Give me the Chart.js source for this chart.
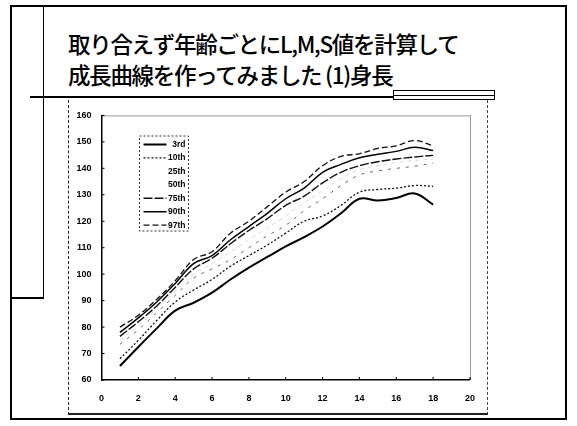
<!DOCTYPE html>
<html>
<head>
<meta charset="utf-8">
<script src="https://cdn.jsdelivr.net/npm/chart.js@4.4.0/dist/chart.umd.min.js"></script>
<style>
  html, body { margin: 0; padding: 0; background: #fff; }
  #slide { position: relative; width: 577px; height: 426px; overflow: hidden; }
  .ln { position: absolute; background: #000; }
  #title { position: absolute; left: 68px; top: 28px; font-family: "Noto Sans CJK JP", sans-serif; font-size: 22.5px; font-weight: 500; line-height: 31px; color: #000; white-space: nowrap; letter-spacing: -1.3px; }
  #box { position: absolute; left: 68px; top: 100px; width: 420px; height: 315px; border-left: 1px dashed #222; border-right: 1px dashed #444; border-bottom: 2px solid #222; box-sizing: border-box; }
  #chartwrap { position: absolute; left: 68px; top: 100px; width: 420px; height: 315px; }
</style>
</head>
<body>
<div id="slide">
  <!-- slide frame -->
  <div class="ln" style="left:10px; top:5px; width:557px; height:2px;"></div>
  <div class="ln" style="left:10px; top:5px; width:2px; height:415px;"></div>
  <div class="ln" style="left:565px; top:5px; width:2px; height:415px;"></div>
  <div class="ln" style="left:10px; top:418px; width:557px; height:2px;"></div>
  <div class="ln" style="left:43px; top:5px; width:1px; height:294px;"></div>
  <div class="ln" style="left:10px; top:297px; width:34px; height:2px;"></div>
  <div class="ln" style="left:30px; top:96px; width:364px; height:2px;"></div>
  <div style="position:absolute; left:393px; top:90px; width:102px; height:10px; border:1px solid #000; box-sizing:border-box;"></div>
  <div class="ln" style="left:393px; top:95px; width:102px; height:1px;"></div>
  <div id="title">取り合えず年齢ごとにL,M,S値を計算して<br>成長曲線を作ってみました (1)身長</div>
  <div id="box"></div>
  <div id="chartwrap"><canvas id="chart" width="420" height="315"></canvas></div>
</div>
<script>
// ages (years) and height percentiles (cm)
var ages = [1, 2, 3, 4, 5, 6, 7, 8, 9, 10, 11, 12, 13, 14, 15, 16, 17, 18];
var p3  = [65.3, 72.5, 79.5, 86.2, 89.2, 93, 98, 102.5, 106.5, 110.5, 114, 118, 123, 128.5, 127.8, 128.8, 130.5, 126.3];
var p10 = [68, 75, 82.5, 89.5, 94, 98, 103, 107, 111, 115.5, 120, 122, 126, 131, 132, 132.5, 133.5, 133.2];
var p25 = [73.5, 79, 85.5, 92, 98.5, 102, 105.5, 110, 114.5, 118.5, 124, 128.5, 133.5, 137.5, 139, 140, 140.8, 142];
var p50 = [75, 80.5, 87, 93.5, 100, 104, 108.5, 113, 117.5, 122, 127, 131.5, 136, 139.5, 141, 142.2, 143, 143.5];
var p75 = [76.5, 82, 88, 95, 102, 106, 111.5, 116.5, 121, 126, 129.5, 134.5, 138.5, 141, 142.5, 143.5, 144.3, 144.9];
var p90 = [78, 83.5, 89.5, 96.5, 104, 107, 113, 118, 123, 128.5, 132.5, 138.5, 141.5, 144, 145.3, 146.4, 148, 146.7];
var p97 = [80, 84.5, 90.5, 97.5, 105.5, 108.5, 115.5, 120, 125.5, 131, 135, 141, 144.5, 145.5, 147.5, 148.5, 150.5, 148.5];
var xTicks = [0, 2, 4, 6, 8, 10, 12, 14, 16, 18, 20];
var yTicks = [60, 70, 80, 90, 100, 110, 120, 130, 140, 150, 160];

function pts(vals) {
    var out = [];
    for (var i = 0; i < ages.length; i++) {
        out.push({x: ages[i], y: vals[i]});
    }
    return out;
}

function ds(label, vals, color, width, dash) {
    return {
        label: label,
        data: pts(vals),
        borderColor: color,
        borderWidth: width,
        borderDash: dash,
        pointRadius: 0,
        tension: 0.4,
        fill: false
    };
}

var datasets = [
    ds("3rd", p3, '#000', 2, []),
    ds("10th", p10, '#111', 1.3, [2, 2]),
    ds("25th", p25, '#666', 1, [3, 6]),
    ds("50th", p50, '#d8d8d8', 1, [4, 4]),
    ds("75th", p75, '#111', 1.4, [9, 2]),
    ds("90th", p90, '#000', 1.5, []),
    ds("97th", p97, '#111', 1.3, [6, 3])
];

// dotted top/right frame, small inward ticks, legend box
var framePlugin = {
    id: 'frame',
    afterDraw: function(chart) {
        var ctx = chart.ctx, a = chart.chartArea;
        ctx.save();
        ctx.strokeStyle = '#333';
        ctx.lineWidth = 1;
        ctx.setLineDash([1, 1]);
        ctx.beginPath();
        ctx.moveTo(a.left, a.top + 0.5);
        ctx.lineTo(a.right, a.top + 0.5);
        ctx.moveTo(a.right + 0.5, a.top);
        ctx.lineTo(a.right + 0.5, a.bottom);
        ctx.stroke();
        ctx.setLineDash([]);
        ctx.strokeStyle = '#000';
        ctx.beginPath();
        xTicks.forEach(function(v) {
            var px = chart.scales.x.getPixelForValue(v);
            ctx.moveTo(px, a.bottom);
            ctx.lineTo(px, a.bottom - 3);
        });
        yTicks.forEach(function(v) {
            var py = chart.scales.y.getPixelForValue(v);
            ctx.moveTo(a.left, py);
            ctx.lineTo(a.left + 3, py);
        });
        ctx.stroke();
        var lx = 139.5 - 68, ly = 136 - 100, lw = 49, lh = 95;
        ctx.strokeStyle = '#333';
        ctx.setLineDash([2, 2]);
        ctx.strokeRect(lx, ly, lw, lh);
        ctx.font = 'bold 8.5px "Liberation Sans", Arial, sans-serif';
        ctx.textAlign = 'right';
        ctx.textBaseline = 'middle';
        chart.data.datasets.forEach(function(d, i) {
            var y = ly + 8.5 + i * 13.45;
            ctx.strokeStyle = d.borderColor;
            ctx.lineWidth = d.borderWidth;
            ctx.setLineDash(d.borderDash);
            if (i !== 2 && i !== 3) {
                ctx.beginPath();
                ctx.moveTo(lx + 4, y);
                ctx.lineTo(lx + 27, y);
                ctx.stroke();
            }
            ctx.fillStyle = '#000';
            ctx.fillText(d.label, lx + 46, y);
        });
        ctx.restore();
    }
};

var ctx = document.getElementById("chart").getContext('2d');
var chart = new Chart(ctx, {
    type: 'line',
    data: { datasets: datasets },
    plugins: [framePlugin],
    options: {
        responsive: false,
        animation: false,
        layout: { padding: { top: 15, right: 15, left: 0, bottom: 0 } },
        plugins: {
            legend: { display: false },
            tooltip: { enabled: false }
        },
        scales: {
            x: {
                type: 'linear',
                min: 0,
                max: 20,
                afterFit: function(s) { s.height = 35; },
                afterBuildTicks: function(s) { s.ticks = xTicks.map(function(v) { return {value: v}; }); },
                grid: { display: false, drawTicks: false },
                border: { display: true, color: '#000', width: 1.5 },
                ticks: { padding: 13, color: '#000', font: { family: '"Liberation Sans", Arial', size: 9, weight: 'bold' } }
            },
            y: {
                min: 60,
                max: 160,
                afterFit: function(s) { s.width = 33.5; },
                afterBuildTicks: function(s) { s.ticks = yTicks.map(function(v) { return {value: v}; }); },
                grid: { display: false, drawTicks: false },
                border: { display: true, color: '#000', width: 1.5 },
                ticks: { padding: 10, color: '#000', font: { family: '"Liberation Sans", Arial', size: 9, weight: 'bold' } }
            }
        }
    }
});
</script>
</body>
</html>
